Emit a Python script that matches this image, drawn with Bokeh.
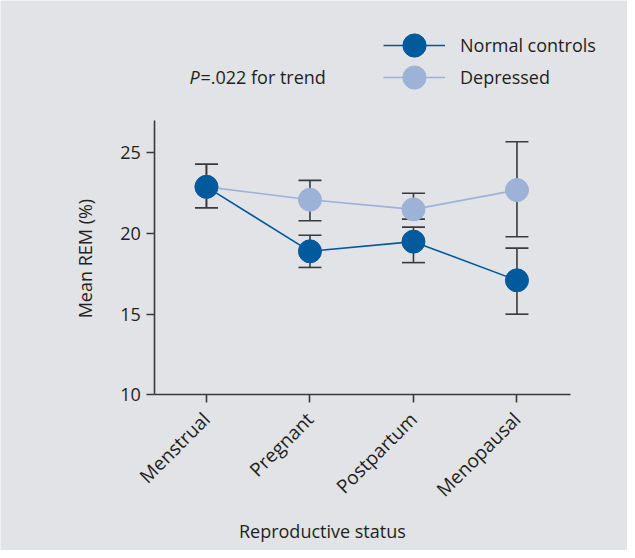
import math
from bokeh.plotting import figure
from bokeh.models import (ColumnDataSource, Range1d, Whisker, TeeHead, LinearAxis,
                          Legend, LegendItem, Label, FixedTicker)
from bokeh.embed import file_html
from bokeh.resources import INLINE

# ---- data ----
categories = ["Menstrual", "Pregnant", "Postpartum", "Menopausal"]
nc_mean = [22.9, 18.9, 19.5, 17.1]
nc_upper = [24.3, 19.9, 20.4, 19.1]
nc_lower = [21.6, 17.9, 18.2, 15.0]
dep_mean = [22.9, 22.1, 21.5, 22.7]
dep_upper = [24.3, 23.3, 22.5, 25.7]
dep_lower = [21.6, 20.8, 20.9, 19.8]
y_ticks = [10, 15, 20, 25]
series_names = ["Normal controls", "Depressed"]
trend_text = ["P", "=.022 for trend"]
x_title = "Reproductive status"
y_title = "Mean REM (%)"

FONT = "Open Sans"
BG = "#e1e3e6"
DARK = "#005a9c"
LIGHT = "#9cb2d7"
INK = "#231f20"
BAR = "#3a3a3a"

xpos = list(range(len(categories)))
nc_src = ColumnDataSource(dict(x=xpos, y=nc_mean, upper=nc_upper, lower=nc_lower))
dep_src = ColumnDataSource(dict(x=xpos, y=dep_mean, upper=dep_upper, lower=dep_lower))

W, H = 627, 550
# frame spans the whole figure; axes are pinned inside it
p = figure(width=W, height=H, x_range=Range1d(-1.990, 4.068), y_range=Range1d(0.34, 34.46),
           output_backend="svg", toolbar_location=None, x_axis_type=None, y_axis_type=None,
           min_border=0)
p.background_fill_color = BG
p.border_fill_color = BG
p.outline_line_color = None
p.grid.visible = False

dep_line = p.line("x", "y", source=dep_src, line_color=LIGHT, line_width=1.6)
nc_line = p.line("x", "y", source=nc_src, line_color=DARK, line_width=1.6)

for src in (dep_src, nc_src):
    w = Whisker(base="x", upper="upper", lower="lower", source=src, dimension="height",
                line_color=BAR, line_width=1.6,
                upper_head=TeeHead(size=23, line_color=BAR, line_width=1.6),
                lower_head=TeeHead(size=23, line_color=BAR, line_width=1.6))
    p.add_layout(w)

dep_pts = p.scatter("x", "y", source=dep_src, size=23, fill_color=LIGHT, line_color=LIGHT)
nc_pts = p.scatter("x", "y", source=nc_src, size=23, fill_color=DARK, line_color=DARK)

def style(ax, fs):
    ax.axis_line_color = BAR
    ax.axis_line_width = 1.6
    ax.major_tick_line_color = BAR
    ax.major_tick_line_width = 1.6
    ax.major_tick_in = 0
    ax.major_tick_out = 8
    ax.minor_tick_line_color = None
    ax.major_label_text_font = FONT
    ax.major_label_text_font_size = fs
    ax.major_label_text_color = INK

yax = LinearAxis(ticker=FixedTicker(ticks=y_ticks), fixed_location=-0.5, bounds=(10, 27))
style(yax, "18px")
yax.major_label_standoff = 6
p.add_layout(yax, "left")

xax = LinearAxis(ticker=FixedTicker(ticks=xpos), fixed_location=10, bounds=(-0.5, 3.52),
                 major_label_overrides={i: c for i, c in enumerate(categories)})
style(xax, "19px")
xax.major_label_orientation = math.pi / 4
xax.major_label_standoff = 13
p.add_layout(xax, "below")

p.add_layout(Label(x=-1.169, y=18.45, text=y_title, angle=math.pi / 2,
                   text_align="center", text_baseline="middle",
                   text_font=FONT, text_font_size="18px", text_color=INK))
p.add_layout(Label(x=1.12, y=1.56, text=x_title, text_align="center", text_baseline="middle",
                   text_font=FONT, text_font_size="18px", text_color=INK))

p.add_layout(Label(x=-0.164, y=29.72, text=trend_text[0], text_align="left", text_baseline="middle",
                   text_font=FONT, text_font_size="18px", text_font_style="italic", text_color=INK))
p.add_layout(Label(x=-0.058, y=29.72, text=trend_text[1], text_align="left", text_baseline="middle",
                   text_font=FONT, text_font_size="18px", text_color=INK))

# legends (one per row so markers can be large)
for name, rends, vy in ((series_names[0], [nc_line, nc_pts], H - 74),
                        (series_names[1], [dep_line, dep_pts], H - 106)):
    lg = Legend(items=[LegendItem(label=name, renderers=rends)], location=(383, vy),
                glyph_width=62, glyph_height=58, label_standoff=15, padding=0, margin=0,
                border_line_alpha=0, background_fill_alpha=0,
                label_text_font=FONT, label_text_font_size="18px", label_text_color=INK)
    p.add_layout(lg)

open("out.html", "w").write(file_html(p, INLINE))
